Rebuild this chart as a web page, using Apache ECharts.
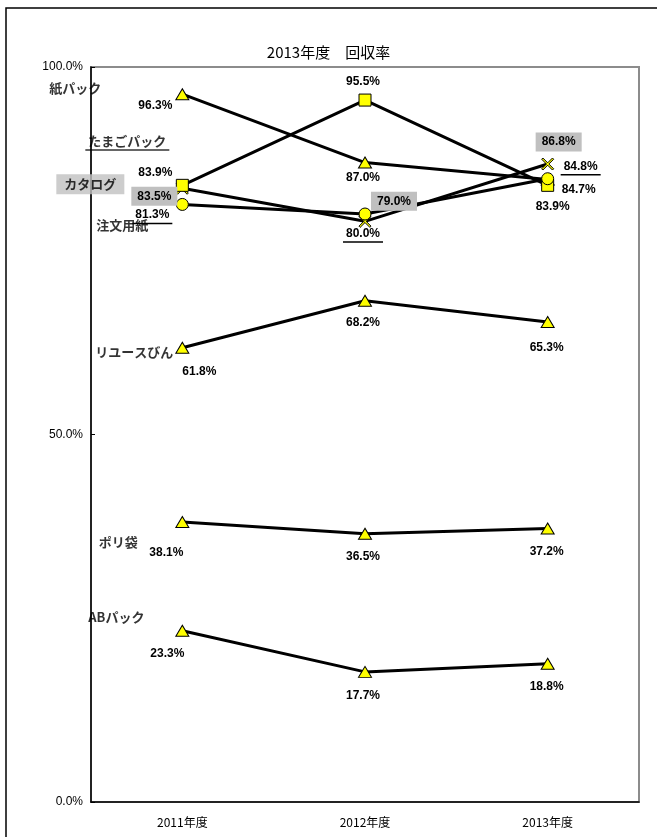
<!DOCTYPE html>
<html>
<head>
<meta charset="utf-8">
<script src="https://cdn.jsdelivr.net/npm/echarts@6/dist/echarts.min.js"></script>
<style>
  html, body { margin: 0; padding: 0; background: #fff; }
  #chart { width: 657px; height: 837px; }
</style>
</head>
<body>
<div id="chart"></div>
<script>
// Fiscal years on the category axis
const years = ['2011年度', '2012年度', '2013年度'];
// Collection rates (%) per item
const kamiPack = [96.3, 87.0, 84.7];      // 紙パック
const catalog = [83.5, 79.0, 86.8];       // カタログ
const chumonYoshi = [83.9, 95.5, 83.9];   // 注文用紙
const tamagoPack = [81.3, 80.0, 84.8];    // たまごパック
const reuseBin = [61.8, 68.2, 65.3];      // リユースびん
const poriBukuro = [38.1, 36.5, 37.2];    // ポリ袋
const abPack = [23.3, 17.7, 18.8];        // ABパック
// Value axis ticks
const yTicks = [0, 50, 100];

const NUM_FONT = "'Liberation Sans', Arial, 'Noto Sans CJK JP', sans-serif";
const JP_FONT = "'Noto Sans CJK JP', sans-serif";
const YELLOW = '#ffff00';
const CROSS = 'path://M0,2 L2,0 L10,8 L18,0 L20,2 L12,10 L20,18 L18,20 L10,12 L2,20 L0,18 L8,10 Z';

// Label styles: plain, grey box, underlined
const styles = {
  plain: {},
  box: { backgroundColor: '#c0c0c0', padding: [4, 6, 3, 6] },
  under: {}
};

const seriesDefs = [
  { name: '紙パック', values: kamiPack, symbol: 'triangle', size: [13, 11], kind: 'plain',
    offsets: [[-27, 11], [-2, 15], [31, 10]], nameOffset: [-107, -6] },
  { name: 'カタログ', values: catalog, symbol: CROSS, size: 12, kind: 'box',
    offsets: [[-28, 8], [29, -20], [11, -22]], nameOffset: [-92, -4] },
  { name: '注文用紙', values: chumonYoshi, symbol: 'rect', size: 12, kind: 'plain',
    offsets: [[-27, -13], [-2, -18], [5, 21]], nameOffset: [-60, 40] },
  { name: 'たまごパック', values: tamagoPack, symbol: 'circle', size: 12, kind: 'under',
    offsets: [[-30, 12], [-2, 21], [33, -11]], nameOffset: [-55, -62] },
  { name: 'リユースびん', values: reuseBin, symbol: 'triangle', size: [13, 11], kind: 'plain',
    offsets: [[17, 24], [-2, 22], [-1, 26]], nameOffset: [-48, 4] },
  { name: 'ポリ袋', values: poriBukuro, symbol: 'triangle', size: [13, 11], kind: 'plain',
    offsets: [[-16, 31], [-2, 23], [-1, 23]], nameOffset: [-64, 20] },
  { name: 'ABパック', values: abPack, symbol: 'triangle', size: [13, 11], kind: 'plain',
    offsets: [[-15, 23], [-2, 24], [-1, 23]], nameOffset: [-66, -14] }
];

function labelFor(kind, text, font, size, underlineWidth) {
  const base = Object.assign({
    show: true,
    position: 'inside',
    color: '#000',
    textBorderColor: 'transparent',
    textBorderWidth: 0,
    fontSize: size,
    fontWeight: 'bold',
    fontFamily: font
  }, styles[kind]);
  if (kind === 'under') {
    base.formatter = '{v|' + text + '}\n{u| }';
    base.rich = {
      v: { fontSize: size, fontWeight: 'bold', fontFamily: font, color: '#000',
           textBorderColor: 'transparent', textBorderWidth: 0, lineHeight: size + 2 },
      u: { width: underlineWidth, height: 1.5, lineHeight: 3, fontSize: 1, backgroundColor: '#000',
           textBorderWidth: 0 }
    };
  } else {
    base.formatter = text;
  }
  return base;
}

const series = [];
seriesDefs.forEach(function (d) {
  series.push({
    name: d.name,
    type: 'line',
    symbol: d.symbol,
    symbolSize: d.size,
    showAllSymbol: true,
    lineStyle: { color: '#000', width: 3 },
    itemStyle: { color: YELLOW, borderColor: '#000', borderWidth: 1 },
    emphasis: { disabled: true },
    data: d.values.map(function (v, i) {
      const lab = labelFor(d.kind, v.toFixed(1) + '%', NUM_FONT, 12, 40);
      lab.offset = d.offsets[i];
      return { value: v, label: lab };
    })
  });
  // series name written beside the first year's point
  const nameLab = labelFor(d.kind, d.name, JP_FONT, 13, 84);
  nameLab.offset = d.nameOffset;
  if (d.kind === 'box') nameLab.padding = [4, 8, 3, 8];
  series.push({
    type: 'scatter',
    symbolSize: 0,
    silent: true,
    itemStyle: { color: '#000' },
    emphasis: { disabled: true },
    z: 3,
    data: [{ value: [years[0], d.values[0]], label: nameLab }]
  });
});

const chart = echarts.init(document.getElementById('chart'), null, { renderer: 'canvas' });
chart.setOption({
  animation: false,
  backgroundColor: '#fff',
  title: {
    text: '2013年度　回収率',
    left: 'center',
    top: 40,
    textStyle: { fontSize: 15, fontWeight: 'normal', color: '#000', fontFamily: JP_FONT }
  },
  graphic: [{
    type: 'rect',
    shape: { x: 6, y: 8, width: 700, height: 900 },
    style: { fill: 'none', stroke: '#000', lineWidth: 1.5 },
    silent: true
  }],
  grid: {
    left: 91, right: 18, top: 67, bottom: 35,
    show: true, borderColor: '#8c8c8c', borderWidth: 2
  },
  xAxis: {
    type: 'category',
    data: years,
    boundaryGap: true,
    axisLine: { lineStyle: { color: '#000', width: 1.5 } },
    axisTick: { inside: true, length: 5, lineStyle: { color: '#000' } },
    axisLabel: { color: '#000', fontSize: 12, fontFamily: JP_FONT, margin: 14 },
    splitLine: { show: false }
  },
  yAxis: {
    type: 'value',
    min: yTicks[0],
    max: yTicks[yTicks.length - 1],
    interval: yTicks[1] - yTicks[0],
    axisLine: { show: true, lineStyle: { color: '#000', width: 1.5 } },
    axisTick: { show: true, inside: true, length: 4, lineStyle: { color: '#000' } },
    axisLabel: {
      color: '#000', fontSize: 12, fontFamily: NUM_FONT, margin: 8,
      formatter: function (v) { return v.toFixed(1) + '%'; }
    },
    splitLine: { show: false }
  },
  series: series
});
</script>
</body>
</html>
